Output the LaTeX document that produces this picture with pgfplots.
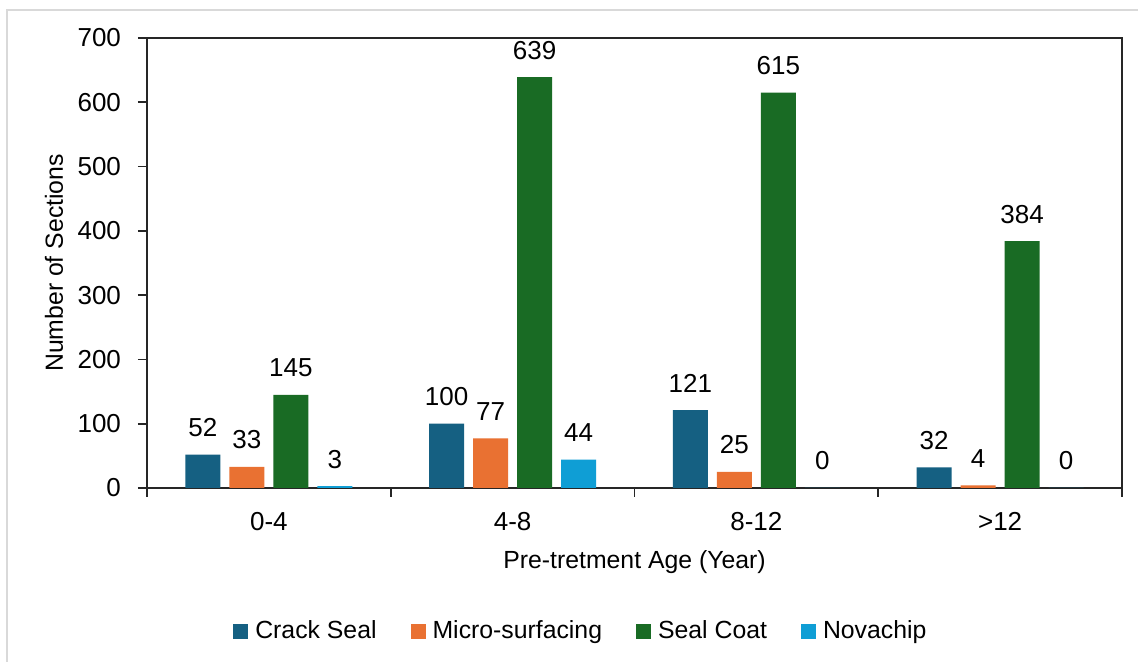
\documentclass[border=0pt]{standalone}
\usepackage{fontspec}
\setmainfont{Liberation Sans}
\usepackage{pgfplots}
\pgfplotsset{compat=1.18}

\definecolor{crack}{HTML}{156082}
\definecolor{micro}{HTML}{E97132}
\definecolor{sealc}{HTML}{196B24}
\definecolor{nova}{HTML}{0F9ED5}
\definecolor{frame}{HTML}{D9D9D9}
\definecolor{axisline}{HTML}{262626}

\newcommand{\numfont}{\fontsize{13}{15.5}\selectfont}
\newcommand{\labfont}{\fontsize{12.4}{14.8}\selectfont}

\begin{document}
\begin{tikzpicture}
  % picture area, 1 px of the reference = 0.5pt
  \fill[white] (0pt,0pt) rectangle (569pt,331pt);
  \useasboundingbox (0pt,0pt) rectangle (569pt,331pt);
  \draw[frame, line width=1pt] (3.5pt,0pt) -- (3.5pt,326pt) -- (569pt,326pt);

  \begin{axis}[
    at={(73.5pt,87pt)}, anchor=south west,
    scale only axis, width=487.5pt, height=225pt,
    ybar=4.5pt, bar width=17.5pt,
    xmin=-0.5, xmax=3.5, ymin=0, ymax=700,
    xtick={-0.5,0.5,1.5,2.5,3.5},
    x tick label as interval,
    xticklabels={0-4,4-8,8-12,>12},
    ytick={0,100,...,700},
    tick align=outside,
    xtick pos=bottom, ytick pos=left,
    major tick length=4.5pt,
    every tick/.style={axisline, line width=0.8pt},
    axis line style={axisline, line width=0.8pt},
    /pgf/number format/assume math mode=true,
    tick label style={font=\numfont, text=black},
    yticklabel style={xshift=-5pt},
    xticklabel style={yshift=-4pt},
    xlabel={Pre-tretment Age (Year)},
    ylabel={Number of Sections},
    label style={font=\labfont, text=black},
    xlabel style={at={(axis description cs:0.5,-0.164)}, anchor=center},
    ylabel style={at={(axis description cs:-0.0954,0.5)}, anchor=center},
    nodes near coords,
    every node near coord/.append style={font=\numfont, text=black, anchor=center, yshift=13.5pt},
    legend columns=4,
    legend style={draw=none, fill=none, font=\labfont, text=black,
      at={(0.446,-0.318)}, anchor=center,
      /tikz/every even column/.append style={column sep=15pt}},
    legend image code/.code={\fill[#1] (0pt,-3.75pt) rectangle (7.5pt,3.75pt); \path (9pt,0pt);},
  ]
    \addplot[fill=crack, draw=none] coordinates {(0,52) (1,100) (2,121) (3,32)};
    \addplot[fill=micro, draw=none] coordinates {(0,33) (1,77) (2,25) (3,4)};
    \addplot[fill=sealc, draw=none] coordinates {(0,145) (1,639) (2,615) (3,384)};
    \addplot[fill=nova, draw=none] coordinates {(0,3) (1,44) (2,0) (3,0)};
    \legend{Crack Seal,Micro-surfacing,Seal Coat,Novachip}
  \end{axis}
\end{tikzpicture}
\end{document}
